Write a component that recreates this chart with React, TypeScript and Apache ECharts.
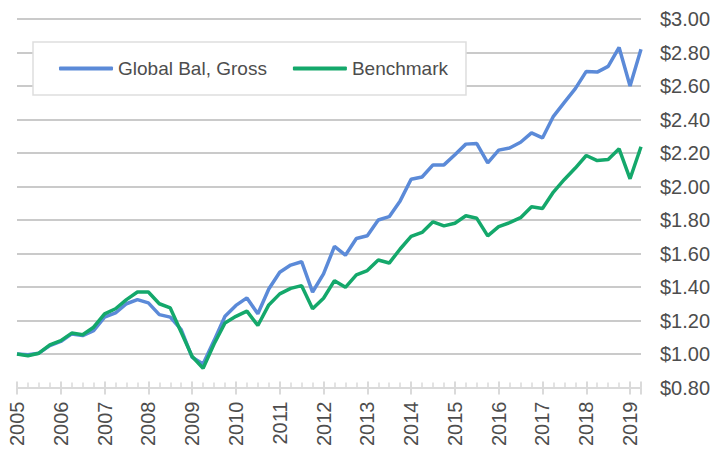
import React, { useEffect, useRef } from "react";
import * as echarts from "echarts";

// Quarterly observations from 2005 Q1 (2005.00) to 2019 Q2 (2019.25)
const startYear = 2005;
const quarterStep = 0.25;

const globalBalGross = [
  1.0, 0.995, 1.005, 1.05, 1.075, 1.12, 1.11, 1.14, 1.22, 1.245,
  1.3, 1.325, 1.305, 1.235, 1.22, 1.145, 0.98, 0.94, 1.08, 1.225,
  1.29, 1.335, 1.24, 1.388, 1.488, 1.531, 1.551, 1.37, 1.478, 1.642,
  1.59, 1.69, 1.706, 1.8, 1.82, 1.914, 2.043, 2.057, 2.129, 2.129,
  2.19, 2.253, 2.256, 2.141, 2.217, 2.23, 2.264, 2.32, 2.29, 2.419,
  2.502, 2.584, 2.687, 2.683, 2.717, 2.83, 2.6, 2.82,
];

const benchmark = [
  1.0, 0.99, 1.005, 1.055, 1.08, 1.125, 1.115, 1.16, 1.24, 1.27,
  1.325, 1.37, 1.37, 1.3, 1.275, 1.13, 0.985, 0.915, 1.06, 1.185,
  1.225, 1.256, 1.17, 1.293, 1.359, 1.392, 1.408, 1.27, 1.333, 1.438,
  1.398, 1.472, 1.498, 1.561, 1.543, 1.627, 1.702, 1.726, 1.789, 1.765,
  1.781, 1.825, 1.81, 1.705, 1.76, 1.784, 1.814, 1.879, 1.869, 1.967,
  2.042, 2.11, 2.185, 2.155, 2.161, 2.225, 2.046, 2.237,
];

const seriesNames = ["Global Bal, Gross", "Benchmark"];
const seriesColors = ["#5b8ad8", "#14a86b"];

const xMin = 2005;
const xMax = 2019.25;
const yMin = 0.8;
const yMax = 3.0;
const yStep = 0.2;

const FONT = "'Liberation Sans', Arial, Helvetica, sans-serif";
const TEXT = "#4d4d4d";

function toPairs(values: number[]) {
  return values.map((v, i) => [startYear + i * quarterStep, v]);
}

export default function App() {
  const ref = useRef<HTMLDivElement>(null);

  useEffect(() => {
    if (!ref.current) return;
    const chart = echarts.init(ref.current, undefined, { renderer: "svg" });
    const baseX = {
      type: "value" as const,
      min: xMin,
      max: xMax,
      interval: 1,
      position: "bottom" as const,
      offset: 0,
      splitLine: { show: false },
    };
    chart.setOption({
      animation: false,
      textStyle: { fontFamily: FONT },
      grid: { left: 17, right: 76, top: 19, bottom: 61, containLabel: false },
      legend: {
        left: 33,
        top: 42,
        orient: "horizontal",
        icon: "roundRect",
        itemWidth: 54,
        itemHeight: 4,
        itemGap: 26,
        padding: [17, 18, 17, 26],
        backgroundColor: "#ffffff",
        borderColor: "#dedede",
        borderWidth: 1.5,
        borderRadius: 0,
        textStyle: { fontSize: 19, color: TEXT, fontFamily: FONT },
        data: seriesNames,
      },
      xAxis: [
        {
          ...baseX,
          axisLine: { show: true, lineStyle: { color: "#dadada", width: 2 } },
          axisTick: { show: true, inside: false, length: 7, lineStyle: { color: "#dadada", width: 2 } },
          minorTick: { show: false },
          axisLabel: {
            show: true,
            rotate: 90,
            margin: 14,
            fontSize: 20,
            color: TEXT,
            fontFamily: FONT,
            formatter: (v: number) => (Number.isInteger(v) ? String(v) : ""),
          },
        },
        {
          ...baseX,
          axisLine: { show: false },
          axisTick: { show: true, inside: true, length: 6, lineStyle: { color: "#dadada", width: 2 } },
          minorTick: { show: true, splitNumber: 4, length: 5, lineStyle: { color: "#dadada", width: 1.5 } },
          axisLabel: { show: false },
        },
      ],
      yAxis: {
        type: "value",
        position: "right",
        min: yMin,
        max: yMax,
        interval: yStep,
        axisLine: { show: false },
        axisTick: { show: false },
        axisLabel: {
          margin: 19,
          fontSize: 20,
          color: TEXT,
          fontFamily: FONT,
          formatter: (v: number) => "$" + v.toFixed(2),
        },
        splitLine: {
          show: true,
          showMinLine: false,
          lineStyle: { color: "#b9b9b9", width: 1.5 },
        },
      },
      series: [
        {
          name: seriesNames[0],
          type: "line",
          xAxisIndex: 0,
          showSymbol: false,
          symbol: "none",
          data: toPairs(globalBalGross),
          lineStyle: { color: seriesColors[0], width: 3.5 },
          itemStyle: { color: seriesColors[0] },
        },
        {
          name: seriesNames[1],
          type: "line",
          xAxisIndex: 0,
          showSymbol: false,
          symbol: "none",
          data: toPairs(benchmark),
          lineStyle: { color: seriesColors[1], width: 3.5 },
          itemStyle: { color: seriesColors[1] },
        },
      ],
    });
    return () => chart.dispose();
  }, []);

  return (
    <div
      ref={ref}
      style={{ position: "fixed", left: 0, top: 0, width: 717, height: 449, background: "#fff" }}
    />
  );
}
